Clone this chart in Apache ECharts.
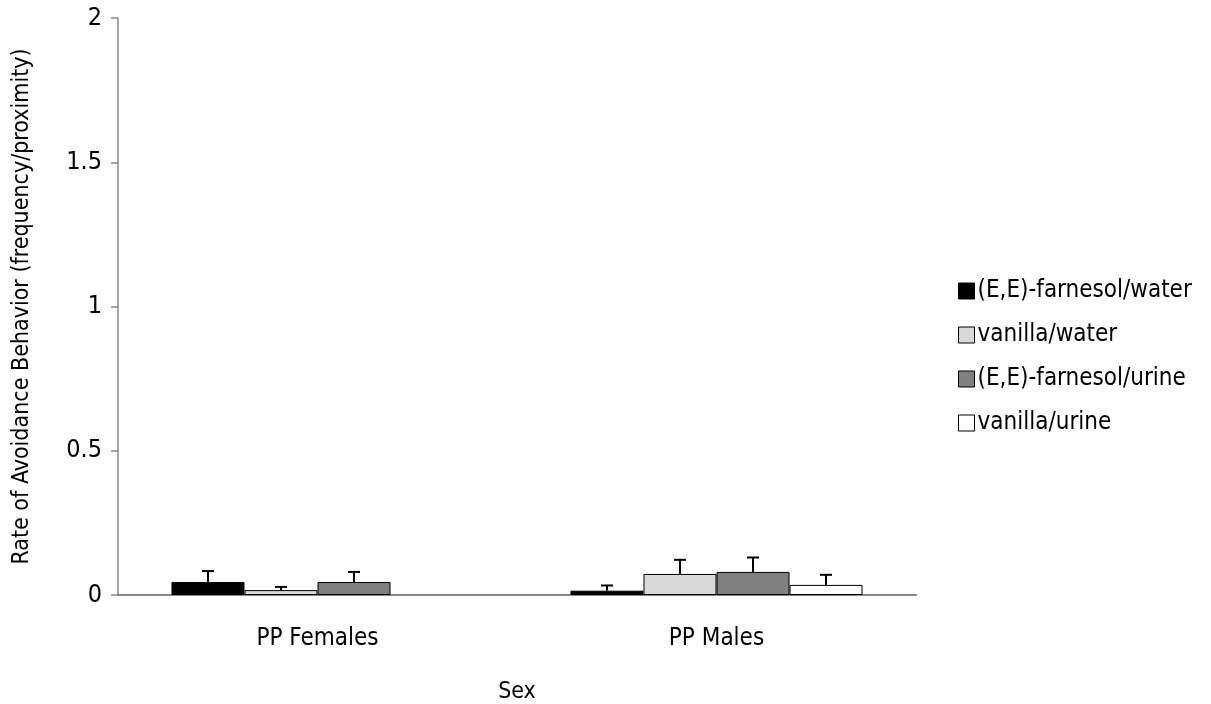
<!DOCTYPE html>
<html>
<head>
<meta charset="utf-8">
<script src="https://cdn.jsdelivr.net/npm/echarts@6/dist/echarts.min.js"></script>
<style>
  html, body { margin: 0; padding: 0; background: #fff; }
  #chart { width: 1211px; height: 704px; }
</style>
</head>
<body>
<div id="chart"></div>
<script>
// Groups along the x axis
const categories = ['PP Females', 'PP Males'];

// Mean rate of avoidance behaviour per treatment
const seriesNames = ['(E,E)-farnesol/water', 'vanilla/water', '(E,E)-farnesol/urine', 'vanilla/urine'];
const farnesolWater = [0.045, 0.015];
const vanillaWater = [0.017, 0.073];
const farnesolUrine = [0.045, 0.080];
const vanillaUrine = [0, 0.035];

// Upper error (standard error) for each bar
const errFarnesolWater = [0.038, 0.018];
const errVanillaWater = [0.011, 0.049];
const errFarnesolUrine = [0.035, 0.050];
const errVanillaUrine = [0, 0.035];

const yTicks = [0, 0.5, 1, 1.5, 2];

const means = [farnesolWater, vanillaWater, farnesolUrine, vanillaUrine];
const errors = [errFarnesolWater, errVanillaWater, errFarnesolUrine, errVanillaUrine];
const fills = ['#000000', '#d9d9d9', '#808080', '#ffffff'];

const FONT = '"DejaVu Sans Condensed", "Liberation Sans Narrow", sans-serif';
const CAT_GAP = 0.268;

const chart = echarts.init(document.getElementById('chart'));

// Empty bars get no outline so nothing is stroked on the baseline
const barSeries = means.map((vals, i) => ({
  name: seriesNames[i],
  type: 'bar',
  data: vals.map(v => v === 0 ? { value: v, itemStyle: { borderWidth: 0 } } : v),
  barGap: '0%',
  barCategoryGap: (CAT_GAP * 100) + '%',
  itemStyle: { color: fills[i], borderColor: '#000', borderWidth: 1 },
  emphasis: { disabled: true }
}));

// Upward T-shaped error bars drawn over each bar
const errorSeries = means.map((vals, i) => ({
  type: 'custom',
  name: seriesNames[i] + ' err',
  z: 5,
  silent: true,
  data: vals.map((v, j) => [j, v, v + errors[i][j]]),
  renderItem: function (params, api) {
    const j = api.value(0);
    const lo = api.value(1);
    const hi = api.value(2);
    if (hi <= lo) return null;
    const catW = api.size([1, 0])[0];
    const barW = catW * (1 - CAT_GAP) / means.length;
    const base = api.coord([j, lo]);
    const top = api.coord([j, hi]);
    const x = base[0] + (i - (means.length - 1) / 2) * barW;
    const half = 6;
    return {
      type: 'group',
      children: [
        { type: 'line', shape: { x1: x, y1: base[1], x2: x, y2: top[1] },
          style: { stroke: '#000', lineWidth: 2 } },
        { type: 'line', shape: { x1: x - half, y1: top[1], x2: x + half, y2: top[1] },
          style: { stroke: '#000', lineWidth: 2 } }
      ]
    };
  }
}));

chart.setOption({
  animation: false,
  backgroundColor: '#fff',
  grid: { left: 118, right: 295, top: 18, bottom: 109, containLabel: false, outerBoundsMode: 'none' },
  legend: {
    data: seriesNames,
    orient: 'vertical',
    left: 953,
    top: 274,
    itemWidth: 16,
    itemHeight: 16,
    itemGap: 20,
    icon: 'rect',
    textStyle: { fontFamily: FONT, fontSize: 24, color: '#000', padding: [0, 0, 0, -2] },
    itemStyle: { borderColor: '#000', borderWidth: 1 }
  },
  xAxis: {
    type: 'category',
    data: categories,
    name: 'Sex',
    nameLocation: 'middle',
    nameGap: 86,
    nameTextStyle: { fontFamily: FONT, fontSize: 23, color: '#000' },
    axisLine: { lineStyle: { color: '#868686', width: 2 } },
    axisTick: { show: false },
    axisLabel: { fontFamily: FONT, fontSize: 24, color: '#000', margin: 32 }
  },
  yAxis: {
    type: 'value',
    min: yTicks[0],
    max: yTicks[yTicks.length - 1],
    interval: 0.5,
    name: 'Rate of Avoidance Behavior (frequency/proximity)',
    nameLocation: 'middle',
    nameGap: 84,
    nameTextStyle: { fontFamily: FONT, fontSize: 23, color: '#000' },
    axisLine: { show: true, lineStyle: { color: '#868686', width: 1.5 } },
    axisTick: { show: true, length: 7, lineStyle: { color: '#868686', width: 1.5 } },
    splitLine: { show: false },
    axisLabel: { fontFamily: FONT, fontSize: 25, color: '#000', margin: 16 }
  },
  series: barSeries.concat(errorSeries)
});
</script>
</body>
</html>
